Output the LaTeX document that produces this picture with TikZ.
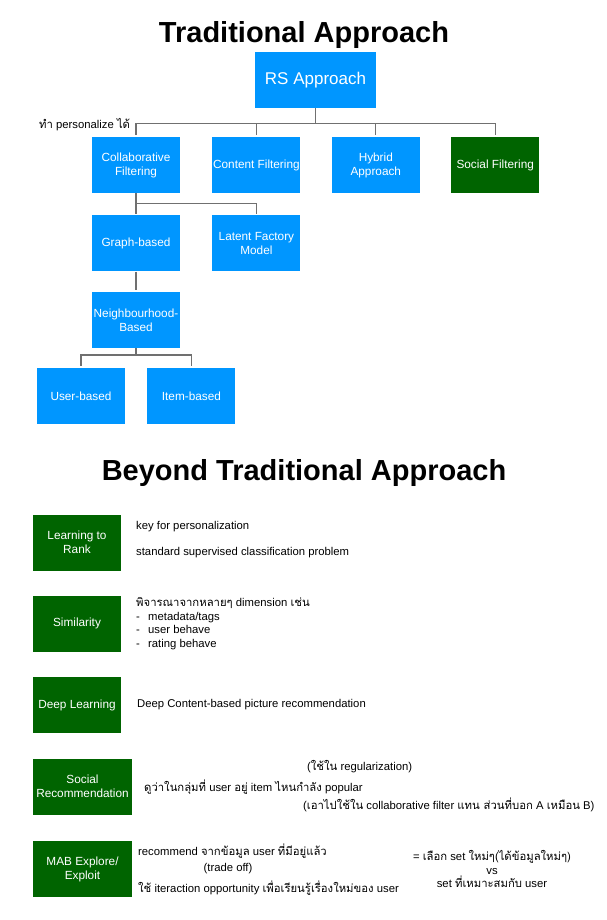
\documentclass[tikz,border=0pt]{standalone}
\usepackage{fontspec}
\setmainfont{Liberation Sans}
\newfontfamily\thaifont[Script=Thai]{Loma}
\newcommand{\thai}[1]{{\thaifont #1}}
\usetikzlibrary{positioning}
\definecolor{rsblue}{RGB}{0,150,255}
\definecolor{rsgreen}{RGB}{0,100,0}
\definecolor{linkgray}{RGB}{112,112,112}

\begin{document}
\begin{tikzpicture}[
        x=1pt, y=-1pt,
        every node/.style={font=\fontsize{11.3}{13.7}\selectfont},
        title/.style={font=\fontsize{29}{31}\selectfont\bfseries},
        box/.style={fill=rsblue, text=white, minimum width=88pt, minimum height=56pt, inner sep=0pt, align=center, font=\fontsize{11.8}{14}\selectfont},
        greenbox/.style={box, fill=rsgreen},
        widebox/.style={greenbox, minimum width=99pt},
        note/.style={anchor=west, inner sep=0pt, align=left},
        link/.style={draw=linkgray, line width=1.2pt, shorten >=1.5pt}
    ]
        \useasboundingbox (0,0) rectangle (606,920);

        % Traditional approach - tree
        \node[title] (trad) at (304,35.5) {Traditional Approach};
        \node[box, minimum width=121pt, font=\fontsize{17}{20}\selectfont] (rs) at (315.5,80) {RS Approach};

        \node[box] (cf) at (136,165) {Collaborative\\Filtering};
        \node[box, right=32pt of cf] (content) {Content Filtering};
        \node[box, right=31pt of content] (hybrid) {Hybrid\\Approach};
        \node[greenbox, right=31pt of hybrid] (social) {Social Filtering};
        \node[note] (perso) at (39,125) {\thai{ทำ} personalize \thai{ได้}};

        \node[box, below=22pt of cf] (graph) {Graph-based};
        \node[box, right=32pt of graph] (latent) {Latent Factory\\Model};
        \node[box, below=20pt of graph] (neigh) {Neighbourhood-\\Based};
        \node[box] (user) at (81,396) {User-based};
        \node[box, right=22pt of user] (item) {Item-based};

        % Tree links
        \draw[link] (rs.south) -- ++(0,-15pt) -| (cf.north);
        \draw[link] (rs.south) -- ++(0,-15pt) -| (content.north);
        \draw[link] (rs.south) -- ++(0,-15pt) -| (hybrid.north);
        \draw[link] (rs.south) -- ++(0,-15pt) -| (social.north);
        \draw[link] (cf.south) -- (graph.north);
        \draw[link] (cf.south) -- ++(0,-10pt) -| (latent.north);
        \draw[link] (graph.south) -- (neigh.north);
        \draw[link] (neigh.south) -- ++(0,-7pt) -| (user.north);
        \draw[link] (neigh.south) -- ++(0,-7pt) -| (item.north);

        % Beyond traditional approach - list
        \node[title] (beyond) at (304,473) {Beyond Traditional Approach};
        \node[greenbox] (ltr) at (77,542.5) {Learning to\\Rank};
        \node[greenbox, below=25pt of ltr] (sim) {Similarity};
        \node[greenbox, below=25pt of sim] (deep) {Deep Learning};
        \node[widebox, below=25pt of deep.south west, anchor=north west] (socrec) {Social\\Recommendation};
        \node[widebox, below=26pt of socrec] (mab) {MAB Explore/\\Exploit};

        % Notes
        \node[note] (key) at (136,527) {key for personalization};
        \node[note] (std) at (136,553) {standard supervised classification problem};
        \node[note] (simtxt) at (136,623.5) {\thai{พิจารณาจากหลายๆ} dimension \thai{เช่น}\\
            \makebox[12pt][l]{-}metadata/tags\\
            \makebox[12pt][l]{-}user behave\\
            \makebox[12pt][l]{-}rating behave};
        \node[note] (deeptxt) at (137,705) {Deep Content-based picture recommendation};
        \node[note] (reg) at (307,767) {(\thai{ใช้ใน} regularization)};
        \node[note] (pop) at (144,787) {\thai{ดูว่าในกลุ่มที่} user \thai{อยู่} item \thai{ไหนกำลัง} popular};
        \node[note] (cfuse) at (303,805) {(\thai{เอาไปใช้ใน} collaborative filter \thai{แทน ส่วนที่บอก} A \thai{เหมือน} B)};
        \node[note] (exploit) at (138,851) {recommend \thai{จากข้อมูล} user \thai{ที่มีอยู่แล้ว}};
        \node[inner sep=0pt] (tradeoff) at (228,869) {(trade off)};
        \node[note] (explore) at (138,888) {\thai{ใช้} iteraction opportunity \thai{เพื่อเรียนรู้เรื่องใหม่ของ} user};
        \node[inner sep=0pt, align=center] (choice) at (492,869) {= \thai{เลือก} set \thai{ใหม่ๆ(ได้ข้อมูลใหม่ๆ)}\\vs\\set \thai{ที่เหมาะสมกับ} user};
    \end{tikzpicture}
\end{document}
